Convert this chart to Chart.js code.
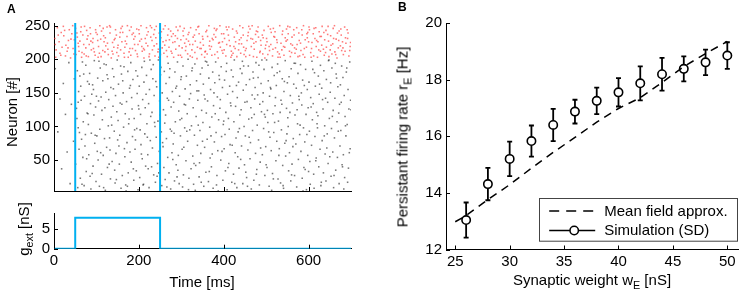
<!DOCTYPE html>
<html>
<head>
<meta charset="utf-8">
<script src="https://cdn.jsdelivr.net/npm/chart.js@4.4.1/dist/chart.umd.min.js"></script>
<style>
  html, body { margin: 0; padding: 0; background: #fff; }
  #wrap { position: relative; width: 744px; height: 294px; overflow: hidden;
          font-family: "Liberation Sans", Arial, sans-serif; color: #000; }
  canvas { position: absolute; }
  .lbl { position: absolute; font-size: 15px; line-height: 1; white-space: nowrap; }
  .rot { transform: translate(-50%, -50%) rotate(-90deg); }
  .hor { transform: translate(-50%, -50%); }
  .panel { position: absolute; font-weight: bold; font-size: 12px; line-height: 1; }
  sub { font-size: 0.72em; vertical-align: -0.4em; line-height: 0; }
</style>
</head>
<body>
<div id="wrap">
  <canvas id="rasterChart" width="360" height="204" style="left:0;top:0;width:360px;height:204px"></canvas>
  <canvas id="gextChart" width="360" height="94" style="left:0;top:200px;width:360px;height:94px"></canvas>
  <canvas id="rateChart" width="364" height="294" style="left:380px;top:0;width:364px;height:294px"></canvas>

  <div class="panel" style="left:7px;top:3px">A</div>
  <div class="panel" style="left:398px;top:1px">B</div>
  <div class="lbl rot" style="left:11px;top:112px">Neuron [#]</div>
  <div class="lbl rot" style="left:23px;top:229px">g<sub>ext</sub> [nS]</div>
  <div class="lbl hor" style="left:202px;top:281px">Time [ms]</div>
  <div class="lbl rot" style="left:402px;top:137px">Persistant firing rate r<sub>E</sub> [Hz]</div>
  <div class="lbl hor" style="left:592px;top:279px">Synaptic weight w<sub>E</sub> [nS]</div>
</div>

<script>
// ---- data ----
// panel A: stimulus
const stimOn = 50;
const stimOff = 250;
const stepTime = [0, 50, 50, 250, 250, 700];
const stepG = [0, 0, 7.8, 7.8, 0, 0];

// tick labels
const timeTicks = [0, 200, 400, 600];
const neuronTicks = [50, 100, 150, 200, 250];
const gTicks = [0, 5];
const weightTicks = [25, 30, 35, 40, 45, 50];
const rateTicks = [12, 14, 16, 18, 20];

// panel A: spikes [time ms, neuron #], excitatory (black)
const excSpikes = [
  [3,186],[9,92],[14,141],[18,37],[22,164],[27,118],[31,62],[35,195],[38,15],[41,133],[46,78],[48,171],
  [51,44],[53,127],[55,183],[56,9],[57,98],[58,152],[59,66],[54,112],
  [61,175],[62,23],[64,139],[65,81],[67,196],[68,54],[69,107],[63,160],
  [71,12],[72,145],[74,88],[75,191],[76,33],[78,120],[79,167],[73,71],
  [81,103],[82,58],[84,179],[85,26],[86,134],[88,90],[89,148],[87,7],
  [91,162],[92,41],[94,117],[95,198],[96,75],[98,129],[99,18],[93,155],
  [101,86],[103,172],[104,50],[105,138],[107,11],[108,96],[109,187],[102,63],
  [111,144],[112,29],[114,110],[115,168],[116,57],[118,193],[119,82],[113,124],
  [121,5],[122,151],[124,69],[125,177],[126,39],[128,101],[129,140],[123,192],
  [131,83],[133,22],[134,158],[135,114],[137,48],[138,186],[139,130],[132,65],
  [141,174],[142,93],[144,16],[145,146],[146,60],[148,122],[149,199],[143,35],
  [151,109],[152,163],[154,44],[155,87],[156,135],[158,8],[159,178],[153,71],
  [161,27],[163,150],[164,99],[165,189],[167,55],[168,119],[169,13],[162,168],
  [171,137],[172,76],[174,182],[175,31],[176,104],[178,157],[179,62],[173,11],
  [181,195],[182,47],[184,126],[185,85],[186,170],[188,20],[189,112],[183,143],
  [191,66],[193,183],[194,34],[195,97],[196,149],[198,6],[199,131],[192,80],
  [201,160],[202,24],[204,118],[205,73],[207,188],[208,52],[209,140],[203,95],
  [211,14],[212,166],[214,89],[215,128],[216,41],[218,176],[219,104],[213,197],
  [221,58],[223,134],[224,9],[225,155],[227,79],[228,115],[229,185],[222,37],
  [231,121],[232,68],[234,192],[235,28],[236,146],[238,100],[239,17],[233,171],
  [241,84],[242,159],[244,45],[245,108],[246,199],[248,63],[249,138],[243,26],
  [251,177],[253,92],[254,12],[255,150],[257,70],[258,125],[259,39],[252,188],
  [261,105],[262,21],[264,164],[265,82],[267,142],[268,54],[269,194],[263,117],
  [271,31],[272,173],[274,96],[275,7],[276,129],[278,61],[279,152],[273,186],
  [281,74],[282,136],[284,19],[285,181],[286,107],[288,43],[289,160],[283,90],
  [291,196],[293,57],[294,123],[295,15],[296,145],[298,86],[299,170],[292,35],
  [301,112],[302,66],[304,190],[305,28],[307,133],[308,98],[309,156],[303,10],
  [311,49],[312,175],[314,119],[315,78],[316,200],[318,23],[319,141],[313,93],
  [321,162],[323,37],[324,101],[325,183],[327,56],[328,128],[329,14],[322,149],
  [331,87],[332,193],[334,42],[335,115],[336,168],[338,72],[339,139],[333,5],
  [341,153],[342,25],[344,94],[345,178],[346,60],[348,124],[349,187],[343,46],
  [351,106],[353,11],[354,147],[355,69],[357,197],[358,32],[359,120],[352,163],
  [361,81],[362,138],[364,18],[365,172],[367,99],[368,53],[369,155],[363,191],
  [371,40],[372,114],[374,181],[375,8],[376,131],[378,77],[379,165],[373,59],
  [381,196],[382,91],[384,27],[385,144],[386,64],[388,110],[389,176],[383,13],
  [391,127],[393,50],[394,189],[395,85],[397,158],[398,20],[399,103],[392,140],
  [401,67],[402,169],[404,34],[405,121],[407,194],[408,6],[409,148],[403,88],
  [411,112],[412,45],[414,160],[415,73],[416,135],[418,184],[419,17],[413,96],
  [421,152],[423,29],[424,107],[425,199],[427,61],[428,130],[429,83],[422,174],
  [431,9],[432,143],[434,92],[435,166],[436,38],[438,117],[439,186],[433,55],
  [441,125],[442,71],[444,197],[445,15],[446,154],[448,100],[449,43],[443,179],
  [451,86],[453,162],[454,24],[455,137],[457,65],[458,190],[459,111],[452,32],
  [461,170],[462,52],[464,128],[465,7],[467,147],[468,94],[469,181],[463,76],
  [471,20],[472,118],[474,158],[475,60],[476,195],[478,36],[479,102],[473,141],
  [481,173],[482,80],[484,13],[485,133],[486,47],[488,164],[489,122],[483,191],
  [491,58],[493,150],[494,97],[495,185],[497,27],[498,114],[499,70],[492,137],
  [501,199],[502,39],[504,106],[505,168],[507,11],[508,145],[509,84],[503,124],
  [511,156],[512,64],[514,188],[515,30],[516,119],[518,91],[519,176],[513,5],
  [521,131],[523,49],[524,161],[525,78],[527,193],[528,22],[529,108],[522,143],
  [531,67],[532,182],[534,16],[535,139],[536,95],[538,171],[539,42],[533,121],
  [541,8],[542,152],[544,75],[545,198],[546,56],[548,127],[549,89],[543,167],
  [551,113],[553,34],[554,174],[555,61],[557,146],[558,19],[559,186],[552,100],
  [561,44],[562,135],[564,82],[565,163],[567,27],[568,117],[569,194],[563,70],
  [571,157],[572,10],[574,104],[575,179],[576,51],[578,140],[579,88],[573,125],
  [581,192],[582,63],[584,132],[585,23],[586,169],[588,98],[589,39],[583,150],
  [591,77],[593,185],[594,118],[595,6],[597,155],[598,57],[599,128],[592,36],
  [601,166],[602,93],[604,14],[605,143],[607,72],[608,197],[609,110],[603,48],
  [611,134],[612,29],[614,180],[615,85],[616,160],[618,53],[619,121],[613,8],
  [621,98],[623,175],[624,40],[625,148],[627,66],[628,191],[629,12],[622,116],
  [631,157],[632,79],[634,126],[635,31],[636,183],[638,101],[639,59],[633,140],
  [641,19],[642,170],[644,89],[645,136],[646,45],[648,199],[649,112],[643,68],
  [651,151],[653,26],[654,97],[655,187],[657,62],[658,124],[659,9],[652,165],
  [661,83],[662,142],[664,35],[665,178],[667,107],[668,54],[669,159],[663,194],
  [671,120],[672,15],[674,71],[675,162],[676,94],[678,190],[679,43],[673,133],
  [681,173],[682,58],[684,146],[685,24],[686,115],[688,86],[689,181],[683,7],
  [691,103],[693,155],[694,38],[695,126],[697,196],[698,67],[699,139],[692,17],
  [57,136],[60,91],[66,14],[70,178],[77,52],[80,119],[83,163],[90,30],[97,87],[100,145],
  [106,197],[110,61],[117,9],[120,128],[127,171],[130,44],[136,102],[140,156],[147,21],[150,80],
  [157,190],[160,133],[166,67],[170,4],[177,111],[180,161],[187,37],[190,95],[197,175],[200,126],
  [206,59],[210,13],[217,148],[220,84],[226,199],[230,40],[237,106],[240,167],[247,31],[250,117],
  [256,76],[260,182],[266,10],[270,139],[277,93],[280,51],[287,157],[290,25],[297,110],[300,174],
  [306,69],[310,132],[317,6],[320,95],[326,187],[330,45],[337,153],[340,102],[347,17],[350,78],
  [356,141],[360,196],[366,33],[370,86],[377,150],[380,119],[387,4],[390,170],[396,63],[400,108],
  [406,182],[410,39],[417,131],[420,72],[426,15],[430,161],[437,97],[440,51],[447,190],[450,136],
  [456,11],[460,84],[466,113],[470,172],[477,29],[480,147],[487,68],[490,199],[496,118],[500,43],
  [506,92],[510,158],[517,22],[520,106],[526,180],[530,57],[537,133],[540,12],[547,79],[550,165],
  [556,121],[560,28],[566,194],[570,74],[577,145],[580,102],[587,4],[590,161],[596,88],[600,33],
  [606,129],[610,185],[617,49],[620,104],[626,163],[630,17],[637,86],[640,142],[647,198],[650,55],
  [656,115],[660,27],[666,172],[670,93],[677,136],[680,40],[687,101],[690,187],[696,61],[700,125]
];

// panel A: spikes [time ms, neuron #], inhibitory (red)
const inhSpikes = [
  [2,231],[5,214],[8,247],[4,203],[12,226],[17,240],[14,209],[19,218],
  [23,235],[27,205],[22,249],[28,221],[31,212],[36,244],[34,228],[39,202],
  [42,238],[45,216],[48,229],[44,250],
  [52,207],[55,233],[58,219],[51,246],[57,224],[63,241],[66,210],[61,227],[68,236],[65,203],
  [72,249],[75,217],[78,230],[71,208],[77,243],[83,222],[86,238],[81,204],[88,214],[85,247],
  [92,231],[95,211],[98,244],[91,225],[97,206],[102,237],[105,219],[108,250],[103,228],[107,209],
  [112,242],[115,213],[118,226],[111,204],[117,235],[122,220],[125,248],[128,207],[121,232],[127,215],
  [132,239],[135,202],[138,225],[131,250],[137,212],[142,229],[145,244],[148,210],[141,218],[147,236],
  [152,205],[155,233],[158,246],[151,221],[157,214],[162,240],[165,209],[168,227],[161,249],[167,218],
  [172,234],[175,203],[178,243],[171,223],[177,211],[182,248],[185,216],[188,230],[181,206],[187,239],
  [192,213],[195,245],[198,222],[191,234],[197,204],[202,227],[205,250],[208,212],[201,238],[207,219],
  [212,202],[215,231],[218,247],[211,216],[217,224],[222,241],[225,208],[228,233],[221,220],[227,250],
  [232,214],[235,237],[238,205],[231,228],[237,244],[242,223],[245,211],[248,239],[241,249],[247,203],
  [252,232],[255,217],[258,245],[251,207],[257,226],[262,250],[265,213],[268,236],[261,221],[267,204],
  [272,229],[275,242],[278,209],[271,218],[277,234],[282,203],[285,226],[288,248],[281,238],[287,215],
  [292,243],[295,220],[298,206],[291,231],[297,249],[302,217],[305,235],[308,224],[301,203],[307,246],
  [312,230],[315,208],[318,240],[311,219],[317,227],[322,247],[325,214],[328,233],[321,205],[327,222],
  [332,210],[335,244],[338,218],[331,236],[337,201],[342,238],[345,225],[348,207],[341,249],[347,216],
  [352,221],[355,203],[358,241],[351,230],[357,212],[362,234],[365,250],[368,215],[361,208],[367,227],
  [372,206],[375,229],[378,246],[371,219],[377,237],[382,243],[385,211],[388,224],[381,233],[387,202],
  [392,218],[395,238],[398,209],[391,250],[397,226],[402,231],[405,205],[408,244],[401,214],[407,222],
  [412,248],[415,220],[418,212],[411,236],[417,203],[422,209],[425,233],[428,226],[421,245],[427,216],
  [432,239],[435,214],[438,250],[431,204],[437,229],[442,223],[445,247],[448,207],[441,232],[447,218],
  [452,204],[455,228],[458,240],[451,213],[457,235],[462,245],[465,219],[468,230],[461,206],[467,250],
  [472,215],[475,237],[478,203],[471,224],[477,242],[482,233],[485,210],[488,221],[481,248],[487,228],
  [492,208],[495,243],[498,216],[491,236],[497,202],[502,226],[505,249],[508,213],[501,231],[507,219],
  [512,240],[515,205],[518,234],[511,222],[517,246],[522,217],[525,229],[528,203],[521,241],[527,211],
  [532,250],[535,224],[538,237],[531,208],[537,214],[542,206],[545,232],[548,245],[541,219],[547,227],
  [552,238],[555,212],[558,223],[551,249],[557,204],[562,221],[565,244],[568,209],[561,233],[567,217],
  [572,247],[575,204],[578,228],[571,215],[577,239],[582,213],[585,236],[588,250],[581,224],[587,207],
  [592,229],[595,218],[598,240],[591,203],[597,232],[602,244],[605,210],[608,225],[601,248],[607,216],
  [612,205],[615,231],[618,219],[611,238],[617,247],[622,226],[625,241],[628,212],[621,203],[627,234],
  [632,249],[635,215],[638,229],[631,221],[637,206],[642,218],[645,237],[648,204],[641,243],[647,227],
  [652,235],[655,208],[658,246],[651,214],[657,223],[662,211],[665,230],[668,239],[661,250],[667,202],
  [672,242],[675,220],[678,213],[671,228],[677,236],[682,207],[685,248],[688,224],[681,217],[687,232],
  [692,231],[695,205],[698,219],[691,244],[697,213],
  [3,222],[10,236],[16,206],[25,243],[33,217],[40,230],[47,208],
  [54,239],[59,212],[64,248],[70,222],[76,205],[80,235],[87,227],[93,216],[99,240],[104,203],
  [110,230],[116,246],[120,211],[126,224],[133,248],[139,208],[144,231],[150,217],[156,240],[160,226],
  [166,203],[173,250],[179,216],[184,237],[190,222],[196,208],[200,244],[206,230],[213,214],[219,236],
  [224,204],[230,247],[236,220],[240,232],[246,215],[253,241],[259,209],[264,228],[270,245],[276,212],
  [280,225],[286,235],[293,206],[299,229],[304,242],[310,213],[316,237],[320,222],[326,203],[333,227],
  [339,248],[344,216],[350,234],[356,211],[360,243],[366,220],[373,231],[379,207],[384,245],[390,225],
  [396,213],[400,238],[406,248],[413,228],[419,206],[424,219],[430,242],[436,223],[440,209],[446,236],
  [453,216],[459,249],[464,231],[470,204],[476,226],[480,241],[486,212],[493,232],[499,221],[504,207],
  [510,245],[516,215],[520,233],[526,225],[533,203],[539,242],[544,218],[550,229],[556,248],[560,210],
  [566,236],[573,222],[579,205],[584,244],[590,216],[596,238],[600,226],[606,203],[613,246],[619,228],
  [624,214],[630,234],[636,240],[640,210],[646,249],[653,221],[659,231],[664,207],[670,217],[676,245],
  [680,226],[686,212],[693,239],[699,225]
];

// panel B: simulation (mean, SD) and mean field curve
const weights = [26, 28, 30, 32, 34, 36, 38, 40, 42, 44, 46, 48, 50];
const rateMean = [13.04, 14.31, 15.20, 15.83, 16.40, 16.87, 17.25, 17.55, 17.87, 18.19, 18.38, 18.61, 18.85];
const rateSD = [0.62, 0.57, 0.61, 0.55, 0.57, 0.42, 0.47, 0.50, 0.60, 0.58, 0.44, 0.45, 0.47];
const mfWeights = [25, 26, 28, 30, 32, 34, 36, 38, 40, 42, 44, 46, 48, 50];
const mfRate = [12.98, 13.20, 13.76, 14.29, 14.87, 15.43, 15.96, 16.50, 16.98, 17.36, 17.90, 18.46, 18.92, 19.35];

// ---- styles ----
const BLUE = '#00b0f0';
const FONT = { family: '"Liberation Sans", Arial, sans-serif', size: 15 };

// matlab-like ticks pointing into the plot
const inwardTicks = {
    id: 'inwardTicks',
    afterDraw(chart) {
        const { ctx, chartArea: area } = chart;
        const xs = chart.scales.x, ys = chart.scales.y;
        ctx.save();
        ctx.strokeStyle = '#000';
        ctx.lineWidth = 1;
        ctx.beginPath();
        xs.ticks.forEach(t => {
            const px = Math.round(xs.getPixelForValue(t.value)) + 0.5;
            ctx.moveTo(px, area.bottom);
            ctx.lineTo(px, area.bottom - 4);
        });
        ys.ticks.forEach(t => {
            const py = Math.round(ys.getPixelForValue(t.value)) + 0.5;
            ctx.moveTo(area.left, py);
            ctx.lineTo(area.left + 4, py);
        });
        ctx.stroke();
        ctx.restore();
    }
};

function linearAxis(min, max, tickValues, size, horizontal, showLabels) {
    return {
        type: 'linear',
        min: min,
        max: max,
        afterBuildTicks: s => { s.ticks = tickValues.map(v => ({ value: v })); },
        afterFit: s => { if (horizontal) s.height = size; else s.width = size; },
        grid: { display: false, drawTicks: false },
        border: { display: true, color: '#000', width: 1 },
        ticks: {
            display: showLabels,
            color: '#000',
            font: FONT,
            padding: horizontal ? 3 : 4,
            autoSkip: false,
            maxRotation: 0
        }
    };
}

const baseOptions = {
    responsive: false,
    animation: false,
    devicePixelRatio: 1,
    events: [],
    plugins: { legend: { display: false }, tooltip: { enabled: false } }
};

// ---- raster ----
new Chart(document.getElementById('rasterChart'), {
    type: 'scatter',
    data: {
        datasets: [
            {
                type: 'line', data: [{ x: stimOn, y: 4 }, { x: stimOn, y: 254 }],
                borderColor: BLUE, borderWidth: 2, pointRadius: 0
            },
            {
                type: 'line', data: [{ x: stimOff, y: 4 }, { x: stimOff, y: 254 }],
                borderColor: BLUE, borderWidth: 2, pointRadius: 0
            },
            {
                data: inhSpikes.map(s => ({ x: s[0], y: s[1] })),
                pointStyle: 'rect', pointRadius: 1.1, borderWidth: 0,
                backgroundColor: 'rgba(255,50,50,0.65)'
            },
            {
                data: excSpikes.map(s => ({ x: s[0], y: s[1] })),
                pointStyle: 'rect', pointRadius: 1.1, borderWidth: 0,
                backgroundColor: 'rgba(30,30,30,0.6)'
            }
        ]
    },
    options: {
        ...baseOptions,
        layout: { padding: { top: 23, right: 9, left: 0, bottom: 0 } },
        scales: {
            x: linearAxis(0, 700, timeTicks, 5, true, false),
            y: linearAxis(4, 254, neuronTicks, 54, false, true)
        }
    },
    plugins: [inwardTicks]
});

// ---- external conductance ----
new Chart(document.getElementById('gextChart'), {
    type: 'line',
    data: {
        datasets: [{
            data: stepTime.map((t, i) => ({ x: t, y: stepG[i] })),
            borderColor: BLUE, borderWidth: 2, pointRadius: 0, tension: 0
        }]
    },
    options: {
        ...baseOptions,
        layout: { padding: { top: 7, right: 9, left: 0, bottom: 0 } },
        scales: {
            x: linearAxis(0, 700, timeTicks, 45.3, true, true),
            y: linearAxis(0, 9, gTicks, 54, false, true)
        }
    },
    plugins: [inwardTicks]
});

// ---- panel B ----
const MARKER_R = 4.2;

const errorBars = {
    id: 'errorBars',
    afterDatasetsDraw(chart) {
        const { ctx } = chart;
        const xs = chart.scales.x, ys = chart.scales.y;
        ctx.save();
        ctx.strokeStyle = '#000';
        ctx.lineWidth = 1.8;
        ctx.beginPath();
        weights.forEach((w, i) => {
            const px = xs.getPixelForValue(w);
            const pm = ys.getPixelForValue(rateMean[i]);
            const pt = ys.getPixelForValue(rateMean[i] + rateSD[i]);
            const pb = ys.getPixelForValue(rateMean[i] - rateSD[i]);
            ctx.moveTo(px, pt); ctx.lineTo(px, pm - MARKER_R);
            ctx.moveTo(px, pm + MARKER_R); ctx.lineTo(px, pb);
            ctx.moveTo(px - 2.5, pt); ctx.lineTo(px + 2.5, pt);
            ctx.moveTo(px - 2.5, pb); ctx.lineTo(px + 2.5, pb);
        });
        ctx.stroke();
        ctx.restore();
    }
};

const boxLegend = {
    id: 'boxLegend',
    afterDraw(chart) {
        const { ctx, chartArea: area } = chart;
        const left = area.right - 199, top = area.bottom - 51.5;
        const w = 198, h = 42.7;
        ctx.save();
        ctx.fillStyle = '#fff';
        ctx.fillRect(left, top, w, h);
        ctx.strokeStyle = '#444';
        ctx.lineWidth = 1;
        ctx.strokeRect(Math.round(left) + 0.5, Math.round(top) + 0.5, w, h);

        ctx.strokeStyle = '#000';
        ctx.lineWidth = 1.5;
        // dashed sample
        ctx.setLineDash([10, 7]);
        ctx.beginPath();
        ctx.moveTo(left + 10, top + 13);
        ctx.lineTo(left + 56, top + 13);
        ctx.stroke();
        // solid sample with marker
        ctx.setLineDash([]);
        ctx.beginPath();
        ctx.moveTo(left + 10, top + 32.5);
        ctx.lineTo(left + 56, top + 32.5);
        ctx.stroke();
        ctx.fillStyle = '#fff';
        ctx.beginPath();
        ctx.arc(left + 35, top + 32.5, MARKER_R, 0, Math.PI * 2);
        ctx.fill();
        ctx.stroke();

        ctx.fillStyle = '#000';
        ctx.font = '15px "Liberation Sans", Arial, sans-serif';
        ctx.textBaseline = 'middle';
        ctx.textAlign = 'left';
        ctx.fillText('Mean field approx.', left + 65, top + 13.5);
        ctx.fillText('Simulation (SD)', left + 65, top + 33);
        ctx.restore();
    }
};

new Chart(document.getElementById('rateChart'), {
    type: 'line',
    data: {
        datasets: [
            {
                label: 'Simulation (SD)',
                data: weights.map((w, i) => ({ x: w, y: rateMean[i] })),
                showLine: false,
                pointStyle: 'circle',
                pointRadius: MARKER_R,
                pointBorderWidth: 1.6,
                pointBorderColor: '#000',
                pointBackgroundColor: 'rgba(0,0,0,0)'
            },
            {
                label: 'Mean field approx.',
                data: mfWeights.map((w, i) => ({ x: w, y: mfRate[i] })),
                borderColor: '#000',
                borderWidth: 1.5,
                borderDash: [8, 6],
                pointRadius: 0,
                tension: 0
            }
        ]
    },
    options: {
        ...baseOptions,
        layout: { padding: { top: 23, right: 3, left: 0, bottom: 0 } },
        scales: {
            x: linearAxis(24.15, 51, weightTicks, 44.5, true, true),
            y: linearAxis(12, 20, rateTicks, 66, false, true)
        }
    },
    plugins: [errorBars, inwardTicks, boxLegend]
});
</script>
</body>
</html>
